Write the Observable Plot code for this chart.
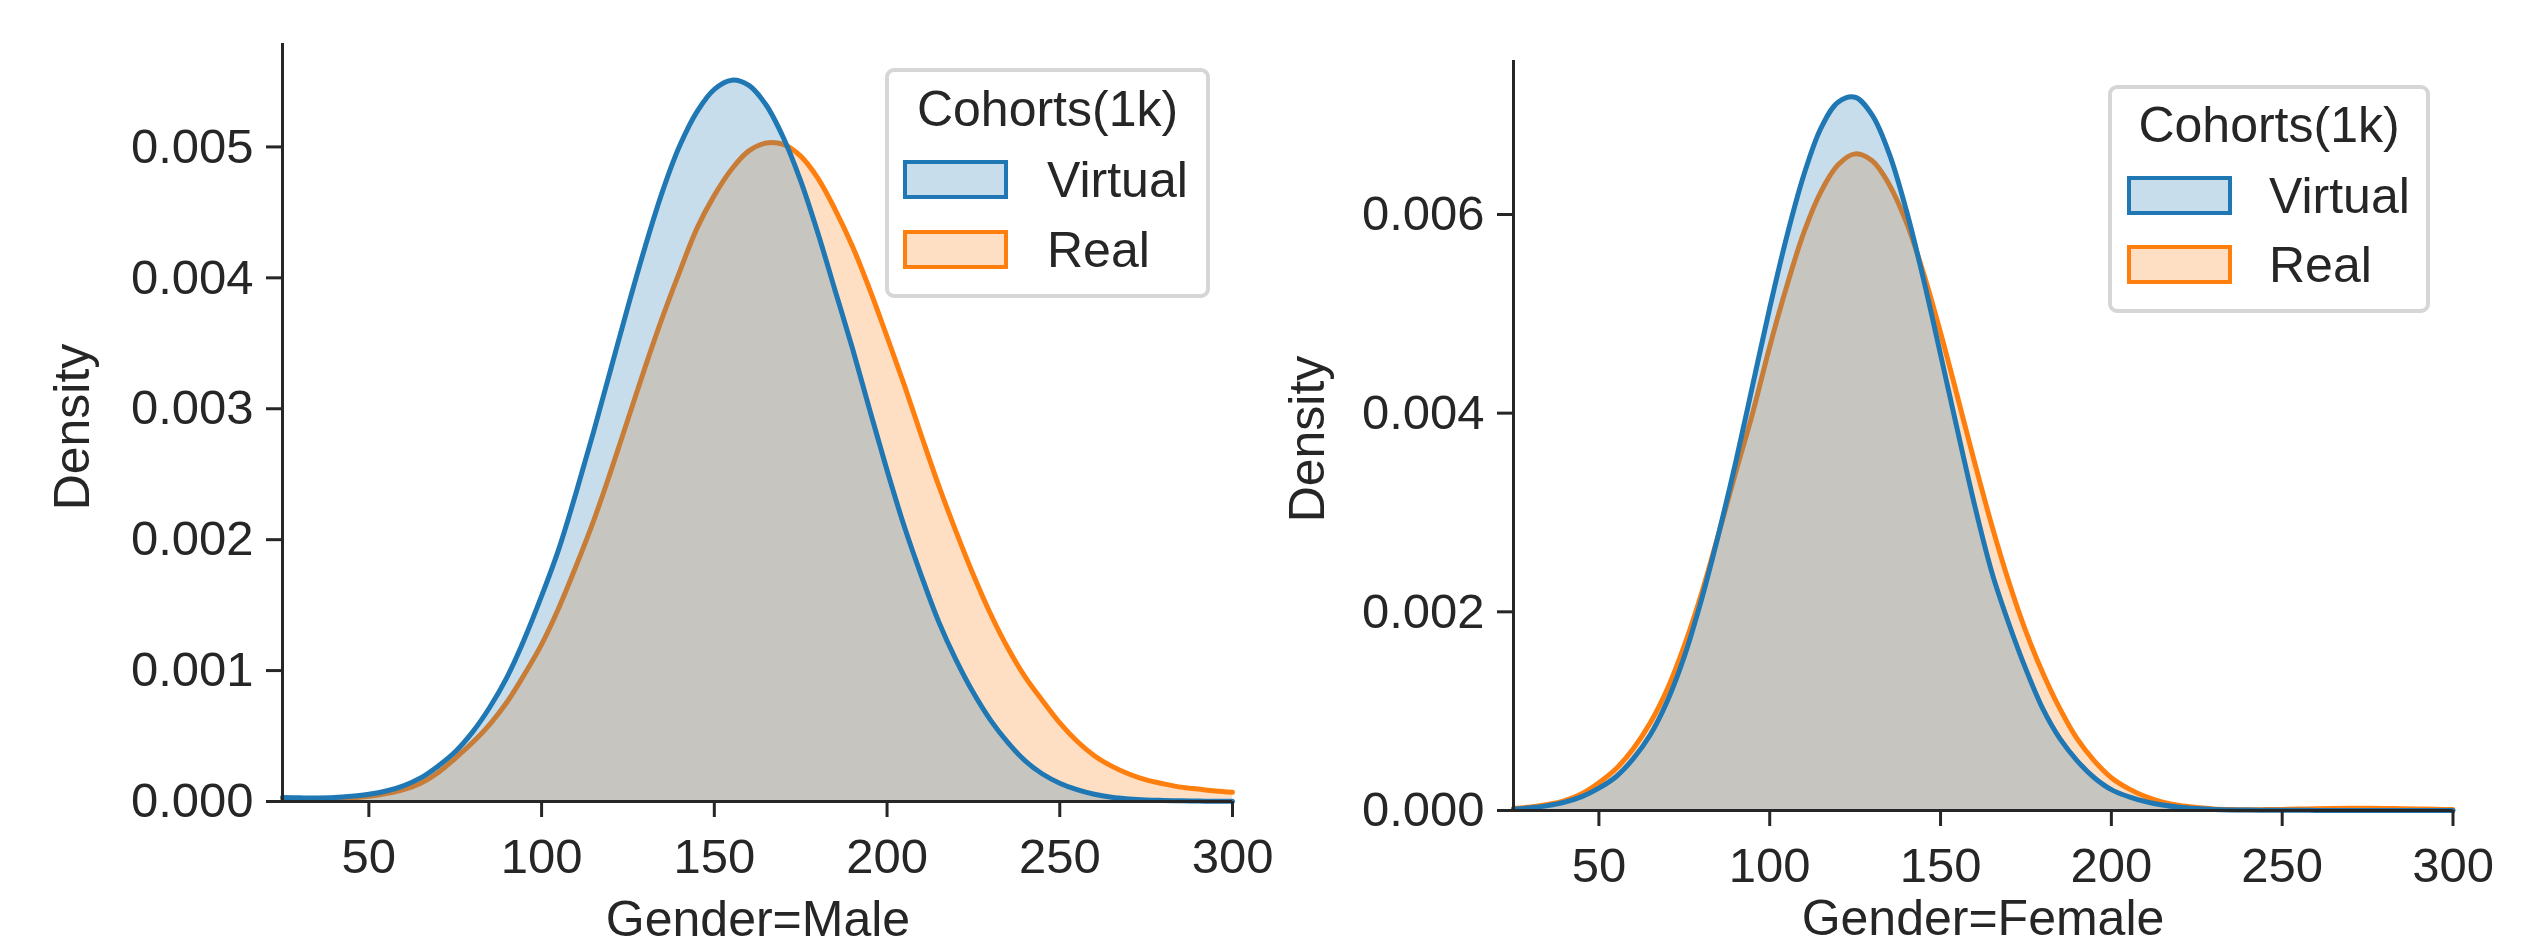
<!DOCTYPE html>
<html>
<head>
<meta charset="utf-8">
<script src="https://cdn.jsdelivr.net/npm/d3@7"></script>
<script src="https://cdn.jsdelivr.net/npm/@observablehq/plot@0.6"></script>
<style>
  html, body { margin: 0; padding: 0; background: #fff; overflow: hidden; }
  #root { position: relative; width: 2547px; height: 946px; overflow: hidden; font-family: 'Liberation Sans', Arial, sans-serif; color: #262626; }
  .panel { position: absolute; top: 0; }
  .lbl { position: absolute; font-size: 50px; line-height: 50px; white-space: nowrap; }
  .legend { position: absolute; box-sizing: border-box; border: 4px solid #d6d6d6; border-radius: 9px; background: rgba(255,255,255,0.8); }
  .swatch { position: absolute; box-sizing: border-box; border: 4px solid; }
</style>
</head>
<body>
<div id="root"></div>
<script>
// ---- data ----
const xGrid = [25,30,35,40,45,50,55,60,65,70,75,80,85,90,95,100,105,110,115,120,125,130,135,140,145,150,155,160,165,170,175,180,185,190,195,200,205,210,215,220,225,230,235,240,245,250,255,260,265,270,275,280,285,290,295,300];

const maleVirtual = [0.00003,0.000028,0.000027,0.00003,0.00004,0.000055,0.00008,0.00012,0.00018,0.00027,0.00038,0.00053,0.00072,0.00095,0.00124,0.00157,0.00193,0.00236,0.00282,0.0033,0.00378,0.00424,0.00466,0.00501,0.00527,0.00544,0.00551,0.00547,0.00532,0.00507,0.00474,0.00434,0.0039,0.00346,0.00299,0.00253,0.0021,0.00172,0.00137,0.00108,0.00083,0.00062,0.00045,0.00031,0.00021,0.00014,0.00009,0.000055,0.000033,0.00002,0.000012,0.000008,0.000005,0.000003,0.000002,0.000001];

const maleReal = [0.00001,0.000012,0.000015,0.00002,0.000028,0.00004,0.00006,0.00009,0.00014,0.00022,0.00033,0.00045,0.00059,0.00076,0.00097,0.0012,0.00148,0.0018,0.00214,0.00252,0.00292,0.00332,0.0037,0.00405,0.00438,0.00463,0.00483,0.00497,0.00503,0.00502,0.00493,0.00476,0.00452,0.00424,0.00391,0.00355,0.00318,0.00279,0.00241,0.00206,0.00173,0.00143,0.00117,0.00095,0.00077,0.0006,0.00046,0.00035,0.00027,0.00021,0.000165,0.000135,0.00011,0.000095,0.00008,0.00007];

const femaleVirtual = [0.000015,0.000027,0.000049,0.000084,0.00014,0.000225,0.00034,0.00052,0.00076,0.0011,0.00155,0.00212,0.00278,0.0035,0.00428,0.00506,0.00578,0.0064,0.00687,0.00713,0.00718,0.007,0.00661,0.00604,0.00535,0.00459,0.00382,0.00307,0.0024,0.00188,0.00142,0.00102,0.00072,0.0005,0.00033,0.00021,0.00014,0.00009,0.000055,0.000033,0.00002,0.000011,0.000006,0.000004,0.000003,0.000002,0.000002,0.000001,0.000001,0.000001,0.000001,0.000001,0.000001,0.000001,0.000001,0.000001];

const femaleReal = [0.00002,0.000035,0.00006,0.0001,0.00017,0.00028,0.00042,0.00062,0.00088,0.00122,0.00166,0.00218,0.00278,0.0034,0.004,0.00467,0.00528,0.00582,0.00623,0.0065,0.00661,0.00654,0.0063,0.00592,0.00541,0.00481,0.00416,0.0035,0.00287,0.0023,0.0018,0.00138,0.00102,0.00072,0.0005,0.00033,0.00022,0.00014,0.000085,0.00005,0.00003,0.000016,0.00001,0.000008,0.000009,0.000011,0.000014,0.000018,0.000021,0.000023,0.000023,0.000021,0.000018,0.000015,0.000012,0.00001];

const cohorts = ["Virtual", "Real"];
const cohortColors = ["#1f77b4", "#ff7f0e"];
const xTicks = [50, 100, 150, 200, 250, 300];
const maleYTicks = [0, 0.001, 0.002, 0.003, 0.004, 0.005];
const femaleYTicks = [0, 0.002, 0.004, 0.006];
const panelTitles = ["Gender=Male", "Gender=Female"];
const yLabel = "Density";
const legendTitle = "Cohorts(1k)";

// ---- drawing ----
const fontFamily = "'Liberation Sans', Arial, sans-serif";
const ink = "#262626";

function rows(vals) {
  return xGrid.map((x, i) => ({x, density: vals[i]}));
}

function panel({virtual, real, yMax, yTicks, width, margins}) {
  const v = rows(virtual), r = rows(real);
  const common = {x: "x", y: "density", curve: "catmull-rom"};
  return Plot.plot({
    width, height: 946, ...margins,
    style: {fontFamily, fontSize: "49px", color: ink, background: "transparent", overflow: "visible"},
    x: {domain: [25, 300]},
    y: {domain: [0, yMax]},
    marks: [
      Plot.areaY(r, {...common, fill: cohortColors[1], fillOpacity: 0.25}),
      Plot.lineY(r, {...common, stroke: cohortColors[1], strokeWidth: 5}),
      Plot.areaY(v, {...common, fill: cohortColors[0], fillOpacity: 0.25}),
      Plot.lineY(v, {...common, stroke: cohortColors[0], strokeWidth: 5}),
      Plot.ruleY([0], {stroke: ink, strokeWidth: 3}),
      Plot.ruleX([25], {stroke: ink, strokeWidth: 3}),
      Plot.axisX({ticks: xTicks, tickSize: 16, tickPadding: 21, strokeWidth: 3, stroke: ink, label: null, tickFormat: d => String(d)}),
      Plot.axisY({ticks: yTicks, tickSize: 16, tickPadding: 13, strokeWidth: 3, stroke: ink, label: null, tickFormat: d3.format(".3f")})
    ]
  });
}

const root = document.getElementById("root");

function place(el, left) {
  const wrap = document.createElement("div");
  wrap.className = "panel";
  wrap.style.left = left + "px";
  wrap.appendChild(el);
  root.appendChild(wrap);
}

place(panel({
  virtual: maleVirtual, real: maleReal, yMax: 0.00579, yTicks: maleYTicks, width: 1275,
  margins: {marginLeft: 282, marginRight: 43, marginTop: 43, marginBottom: 145}
}), 0);

place(panel({
  virtual: femaleVirtual, real: femaleReal, yMax: 0.00755, yTicks: femaleYTicks, width: 1272,
  margins: {marginLeft: 238, marginRight: 94.5, marginTop: 60, marginBottom: 136}
}), 1275);

function label(text, x, y, rotate) {
  const d = document.createElement("div");
  d.className = "lbl";
  d.textContent = text;
  d.style.left = x + "px";
  d.style.top = y + "px";
  d.style.transform = rotate ? "translate(-50%,-50%) rotate(-90deg)" : "translateX(-50%)";
  root.appendChild(d);
}

// x labels
label(panelTitles[0], 758, 894, false);
label(panelTitles[1], 1983, 893, false);
// y labels
label(yLabel, 72, 427, true);
label(yLabel, 1307, 439, true);

function legend(box, titleBaseline, rowsPos) {
  const b = document.createElement("div");
  b.className = "legend";
  Object.assign(b.style, {left: box.left + "px", top: box.top + "px", width: box.width + "px", height: box.height + "px"});
  root.appendChild(b);
  const t = document.createElement("div");
  t.className = "lbl";
  t.textContent = legendTitle;
  t.style.left = (box.left + box.width / 2) + "px";
  t.style.top = (titleBaseline - 42) + "px";
  t.style.transform = "translateX(-50%)";
  root.appendChild(t);
  cohorts.forEach((c, i) => {
    const p = rowsPos[i];
    const s = document.createElement("div");
    s.className = "swatch";
    const col = d3.color(cohortColors[i]);
    Object.assign(s.style, {left: p.sx + "px", top: p.sy + "px", width: "105px", height: "39px",
      borderColor: cohortColors[i], background: `rgba(${col.r},${col.g},${col.b},0.25)`});
    root.appendChild(s);
    const l = document.createElement("div");
    l.className = "lbl";
    l.textContent = c;
    l.style.left = p.tx + "px";
    l.style.top = (p.base - 42) + "px";
    root.appendChild(l);
  });
}

legend({left: 885, top: 68, width: 325, height: 230}, 126,
  [{sx: 903, sy: 160, tx: 1047, base: 197}, {sx: 903, sy: 230, tx: 1047, base: 267}]);
legend({left: 2108, top: 85, width: 322, height: 228}, 142,
  [{sx: 2127, sy: 176, tx: 2269, base: 213}, {sx: 2127, sy: 245, tx: 2269, base: 282}]);
</script>
</body>
</html>
